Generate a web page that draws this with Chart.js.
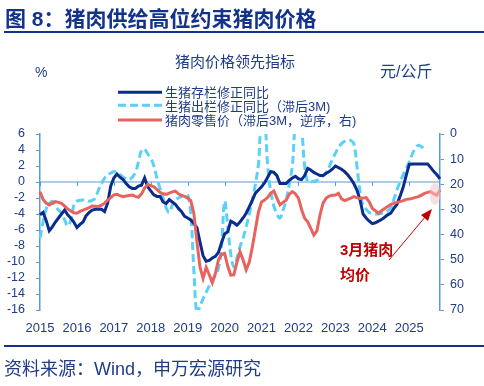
<!DOCTYPE html>
<html><head><meta charset="utf-8">
<script src="https://cdn.jsdelivr.net/npm/chart.js@4.4.1/dist/chart.umd.min.js"></script>
<style>
html,body{margin:0;padding:0;background:#fff;width:484px;height:386px;overflow:hidden;}
#wrap{position:relative;width:484px;height:386px;font-family:"Liberation Sans","Noto Sans CJK SC",sans-serif;color:#1F3C88;}
canvas{position:absolute;left:0;top:0;}
.t{position:absolute;white-space:nowrap;line-height:1;}
svg{position:absolute;left:0;top:0;pointer-events:none;}
</style></head><body>
<div id="wrap">
<canvas id="c" width="484" height="386"></canvas>
<div class="t" style="left:5px;top:7.5px;font-size:21px;font-weight:bold;color:#13338A;">图 8：猪肉供给高位约束猪肉价格</div>
<div style="position:absolute;left:4px;top:31px;width:480px;height:2px;background:#13338A;"></div>
<div class="t" style="left:235px;top:54px;font-size:15px;transform:translateX(-50%);">猪肉价格领先指标</div>
<div class="t" style="left:35px;top:65px;font-size:14px;">%</div>
<div class="t" style="left:380px;top:63.5px;font-size:16px;">元/公斤</div>
<div class="t" style="left:165px;top:86px;font-size:13px;">生猪存栏修正同比</div>
<div class="t" style="left:165px;top:99.5px;font-size:13px;">生猪出栏修正同比（滞后3M)</div>
<div class="t" style="left:165px;top:114px;font-size:13px;">猪肉零售价（滞后3M，逆序，右)</div>
<div class="t" style="left:340px;top:241.5px;font-size:15px;font-weight:bold;color:#C00000;">3月猪肉</div>
<div class="t" style="left:340px;top:266.5px;font-size:15px;font-weight:bold;color:#C00000;">均价</div>
<div style="position:absolute;left:4px;top:345px;width:480px;height:2px;background:#13338A;"></div>
<div class="t" style="left:4px;top:359.5px;font-size:18px;">资料来源：Wind，申万宏源研究</div>
<svg width="484" height="386">
  <line x1="118" y1="92.3" x2="162" y2="92.3" stroke="#0A2D8C" stroke-width="3"/>
  <line x1="118" y1="105.3" x2="162" y2="105.3" stroke="#5BD0FA" stroke-width="3" stroke-dasharray="8,4"/>
  <line x1="118" y1="120" x2="162" y2="120" stroke="#E8625E" stroke-width="3"/>
  <ellipse cx="435" cy="194" rx="5.5" ry="11" fill="#F2C4C4" fill-opacity="0.55"/>
  <line x1="389" y1="260" x2="426" y2="216" stroke="#C00000" stroke-width="1"/>
  <polygon points="432,209 421,215 428,221" fill="#C00000"/>
</svg>
</div>
<script>
const years = ['2015','2016','2017','2018','2019','2020','2021','2022','2023','2024','2025'];
const leftTicks = [-16,-14,-12,-10,-8,-6,-4,-2,0,2,4,6];
const rightTicks = [0,10,20,30,40,50,60,70];

// 生猪存栏修正同比 (%, left), Jan 2015 - Nov 2025
const stockYoY = [
 -4.1,-3.8,-4.8,-6.1,-5.6,-5.0,-4.5,-4.0,-3.5,-4.1,-4.5,-5.0,
 -5.7,-5.3,-5.0,-4.2,-3.8,-3.5,-3.4,-3.4,-3.4,-3.7,-2.6,-0.5,
 0.5,1.0,0.6,0.3,-0.2,-0.6,-0.8,-0.8,-0.5,-0.4,0.5,-0.6,
 -1.1,-1.6,-1.8,-1.8,-2.5,-2.7,-2.2,-2.5,-2.8,-3.3,-3.7,-4.3,
 -4.5,-4.75,-5.2,-5.7,-7.5,-9.2,-9.9,-9.8,-9.5,-9.3,-8.8,-7.6,
 -6.5,-6.2,-4.9,-5.1,-5.4,-5.0,-4.5,-3.9,-3.1,-2.3,-1.4,-1.0,
 -0.6,-0.1,0.6,1.3,1.2,0.8,-0.2,-0.2,-0.2,0.2,0.5,0.7,
 0.4,0.3,0.8,1.7,1.5,1.2,1.0,0.8,0.8,1.1,1.3,1.6,
 2.0,1.8,1.6,1.3,0.9,0.4,-0.2,-1.0,-2.2,-4.0,-4.5,-4.9,
 -5.2,-5.1,-4.9,-4.7,-4.4,-4.1,-3.9,-3.3,-2.8,-1.8,-0.7,0.8,
 2.2,2.25,2.25,2.25,2.25,2.25,2.25,1.8,1.3,0.9,0.4
];
// 生猪出栏修正同比（滞后3M） (%, left)
const outputYoY = [
 -7.0,-5.0,-3.4,-2.7,-2.4,-3.0,-3.5,-3.9,-4.7,-5.5,-4.8,-2.9,
 -2.4,-2.3,-2.25,-2.3,-2.4,-2.3,-2.0,-1.0,-0.2,0.5,0.9,1.1,
 1.3,1.1,0.9,0.6,0.4,0.3,0.6,1.2,2.5,4.0,4.1,3.5,
 3.0,2.0,0.5,-0.8,-2.0,-3.2,-3.8,-2.9,-2.2,-2.0,-1.8,-1.6,
 -1.6,-4.0,-11.0,-16.5,-15.5,-14.6,-13.8,-13.0,-12.3,-11.6,-10.8,-8.0,
 -2.4,-5.5,-9.0,-10.6,-9.5,-8.1,-7.0,-5.6,-4.0,-2.2,-0.3,2.3,
 7.5,7.5,2.0,-1.2,-3.0,-4.0,-4.5,-3.5,-2.3,-0.3,2.0,7.0,
 7.5,6.5,2.0,0.0,0.0,0.1,0.2,0.5,0.8,1.2,1.9,2.8,
 3.6,4.3,4.8,5.1,5.25,5.2,4.8,2.0,-1.2,-2.9,-3.4,-3.8,
 -3.9,-4.0,-4.0,-3.9,-3.8,-3.6,-3.2,-2.2,-1.0,0.0,0.9,1.7,
 2.5,3.5,4.2,4.6,4.4,4.1,null,null,null,null,null
];
// 猪肉零售价（滞后3M，逆序，右） (元/公斤, right)
const retailPrice = [
 23.0,26.0,27.5,28.2,27.5,26.9,27.2,27.6,28.7,29.8,30.6,31.3,
 31.5,30.8,30.3,29.8,29.3,28.6,28.7,28.9,28.3,27.5,26.3,25.3,
 24.2,24.0,24.5,24.9,24.7,24.5,24.3,24.8,25.2,23.8,21.5,20.0,
 20.5,21.0,22.0,23.2,23.8,24.0,23.5,23.0,22.7,23.8,24.4,24.8,
 25.5,26.5,31.5,42.8,53.0,57.4,53.0,56.0,59.2,55.5,50.0,47.8,
 47.5,52.5,56.1,56.0,51.0,46.8,50.0,54.0,51.0,45.0,38.0,31.0,
 27.0,26.3,25.2,23.5,22.7,25.5,28.2,27.2,26.3,24.0,22.9,23.8,
 25.5,30.0,33.5,34.9,37.5,40.2,38.5,32.2,27.5,25.5,24.7,24.4,
 24.3,23.6,25.8,26.5,26.0,25.5,24.9,25.3,25.6,25.5,25.3,27.0,
 29.6,30.5,31.5,30.5,29.6,28.8,28.0,27.6,27.2,26.9,26.5,26.0,
 25.9,25.6,25.2,24.9,24.3,23.6,23.2,22.9,23.8,24.3,22.3
];

const labels = [];
years.forEach(y => { for (let m = 1; m <= 12; m++) labels.push(y + '-' + String(m).padStart(2, '0')); });
labels.length = stockYoY.length;

const AXIS = '#5B9BD5';
const TXT = '#1F3C88';

const zeroLine = {
  id: 'zeroLine',
  beforeDatasetsDraw(chart) {
    const {ctx, chartArea: a, scales} = chart;
    const y0 = scales.y.getPixelForValue(0);
    ctx.save();
    ctx.strokeStyle = AXIS;
    ctx.lineWidth = 1;
    ctx.beginPath();
    ctx.moveTo(a.left, y0); ctx.lineTo(a.right, y0);
    labels.forEach((l, i) => {
      if (i % 12 === 0) {
        const x = Math.round(scales.x.getPixelForValue(i)) + 0.5;
        ctx.moveTo(x, y0); ctx.lineTo(x, y0 + 4);
      }
    });
    ctx.stroke();
    ctx.restore();
  }
};

new Chart(document.getElementById('c'), {
  type: 'line',
  data: {
    labels,
    datasets: [
      {label: '生猪存栏修正同比', data: stockYoY, yAxisID: 'y', borderColor: '#0A2D8C', borderWidth: 3, pointRadius: 0, tension: 0, order: 1},
      {label: '生猪出栏修正同比（滞后3M)', data: outputYoY, yAxisID: 'y', borderColor: '#5BD0FA', borderWidth: 3, borderDash: [8, 4], pointRadius: 0, tension: 0.4, order: 2},
      {label: '猪肉零售价（滞后3M，逆序，右)', data: retailPrice, yAxisID: 'y2', borderColor: '#E8625E', borderWidth: 3, pointRadius: 0, tension: 0, order: 0}
    ]
  },
  options: {
    responsive: false,
    devicePixelRatio: 1,
    animation: false,
    layout: {padding: {top: 134, left: 0, right: 0, bottom: 0}},
    plugins: {legend: {display: false}, tooltip: {enabled: false}, title: {display: false}},
    scales: {
      x: {
        type: 'category',
        grid: {display: false, drawTicks: false},
        border: {display: false},
        ticks: {
          autoSkip: false, maxRotation: 0, minRotation: 0, padding: 11,
          color: TXT, font: {family: 'Liberation Sans', size: 13},
          callback: (v, i) => (i % 12 === 0 ? labels[i].slice(0, 4) : '')
        },
        afterFit: s => { s.height = 76; }
      },
      y: {
        position: 'left', min: leftTicks[0], max: leftTicks[leftTicks.length - 1],
        afterBuildTicks: s => { s.ticks = leftTicks.map(v => ({value: v})); },
        grid: {drawOnChartArea: false, tickLength: 4, color: AXIS, lineWidth: 1},
        border: {color: AXIS, width: 1.5},
        ticks: {autoSkip: false, padding: 11, color: TXT, font: {family: 'Liberation Sans', size: 12.5}},
        afterFit: s => { s.width = 40; }
      },
      y2: {
        position: 'right', reverse: true, min: rightTicks[0], max: rightTicks[rightTicks.length - 1],
        afterBuildTicks: s => { s.ticks = rightTicks.map(v => ({value: v})); },
        grid: {drawOnChartArea: false, tickLength: 4, color: AXIS, lineWidth: 1},
        border: {color: AXIS, width: 1.5},
        ticks: {autoSkip: false, padding: 6, color: TXT, font: {family: 'Liberation Sans', size: 12.5}},
        afterFit: s => { s.width = 44; }
      }
    }
  },
  plugins: [zeroLine]
});
</script>
</body></html>
